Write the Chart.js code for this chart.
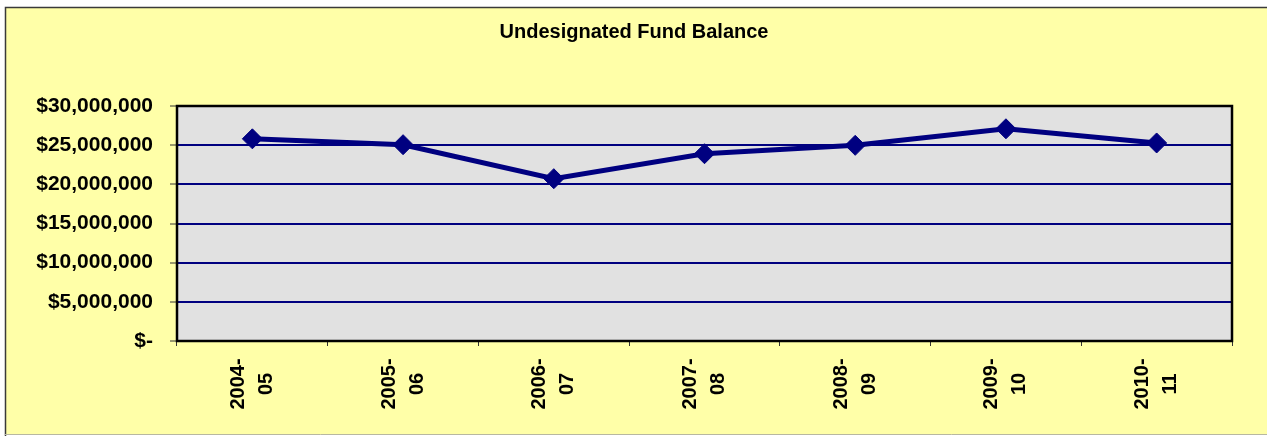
<!DOCTYPE html>
<html>
<head>
<meta charset="utf-8">
<script src="https://cdn.jsdelivr.net/npm/chart.js@4"></script>
<style>
    html, body { margin: 0; padding: 0; background: #ffffff; }
    #wrap { position: relative; width: 1267px; height: 436px; }
</style>
</head>
<body>
<div id="wrap"><canvas id="fundChart" width="1267" height="436"></canvas></div>
<script>
// Données du graphique
const years = [['2004-', '05'], ['2005-', '06'], ['2006-', '07'], ['2007-', '08'], ['2008-', '09'], ['2009-', '10'], ['2010-', '11']];
const balances = [25810000, 25060000, 20720000, 23910000, 24980000, 27090000, 25280000];
const yTicks = [0, 5000000, 10000000, 15000000, 20000000, 25000000, 30000000];

const navy = '#000080';

function formatDollar(v) {
    if (v === 0) return '$-';
    return '$' + v.toLocaleString('en-US');
}

// Fond jaune, zone grise et cadre
const backgroundPlugin = {
    id: 'background',
    beforeDraw(chart) {
        const c = chart.ctx;
        const a = chart.chartArea;
        c.save();
        c.fillStyle = '#ffffff';
        c.fillRect(0, 0, chart.width, chart.height);
        c.fillStyle = '#ffffa8';
        c.fillRect(5, 7, chart.width - 5, chart.height - 8);
        c.strokeStyle = '#3a3a3a';
        c.lineWidth = 1.5;
        c.beginPath();
        c.moveTo(5.5, chart.height);
        c.lineTo(5.5, 7.5);
        c.lineTo(chart.width, 7.5);
        c.stroke();
        c.strokeStyle = '#b8b8a0';
        c.lineWidth = 1;
        c.beginPath();
        c.moveTo(5, chart.height - 1.5);
        c.lineTo(chart.width, chart.height - 1.5);
        c.stroke();
        c.fillStyle = '#e1e1e1';
        c.fillRect(a.left, a.top, a.right - a.left, a.bottom - a.top);
        c.restore();
    },
    beforeDatasetsDraw(chart) {
        const c = chart.ctx;
        const a = chart.chartArea;
        c.save();
        c.strokeStyle = '#000000';
        c.lineWidth = 2.5;
        c.strokeRect(a.left, a.top, a.right - a.left, a.bottom - a.top);
        c.restore();
    }
};

// Étiquettes de l'axe X, tournées et centrées comme dans Excel
const xLabelPlugin = {
    id: 'xLabels',
    afterDraw(chart) {
        const c = chart.ctx;
        const xs = chart.scales.x;
        c.save();
        c.fillStyle = '#000000';
        c.font = 'bold 20px "Liberation Sans", Arial, sans-serif';
        c.textAlign = 'center';
        c.textBaseline = 'middle';
        years.forEach((lines, i) => {
            const x = xs.getPixelForValue(i);
            c.save();
            c.translate(x, 384);
            c.rotate(-Math.PI / 2);
            c.fillText(lines[0], 0, -14);
            c.fillText(lines[1], 0, 14);
            c.restore();
        });
        c.restore();
    }
};

const ctx = document.getElementById('fundChart').getContext('2d');

new Chart(ctx, {
    type: 'line',
    data: {
        labels: years,
        datasets: [{
            label: 'Undesignated Fund Balance',
            data: balances,
            borderColor: navy,
            backgroundColor: navy,
            borderWidth: 5,
            pointStyle: 'rectRot',
            pointRadius: 10,
            pointBorderWidth: 1,
            pointBackgroundColor: navy,
            pointBorderColor: navy,
            tension: 0
        }]
    },
    options: {
        responsive: false,
        animation: false,
        layout: { padding: { left: 36, right: 35, top: 0, bottom: 0 } },
        plugins: {
            legend: { display: false },
            tooltip: { enabled: false },
            title: {
                display: true,
                text: 'Undesignated Fund Balance',
                color: '#000000',
                font: { family: '"Liberation Sans", Arial, sans-serif', size: 20, weight: 'bold', lineHeight: 1.2 },
                padding: { top: 20, bottom: 62 }
            }
        },
        scales: {
            x: {
                offset: true,
                grid: {
                    offset: true,
                    drawOnChartArea: false,
                    drawTicks: true,
                    tickLength: 5,
                    tickColor: '#333333',
                    tickWidth: 1
                },
                border: { display: false },
                ticks: { display: false },
                afterFit(scale) { scale.height = 95; }
            },
            y: {
                min: 0,
                max: 30000000,
                afterBuildTicks(scale) {
                    scale.ticks = yTicks.map(v => ({ value: v }));
                },
                grid: {
                    color: navy,
                    lineWidth: 2,
                    drawTicks: true,
                    tickLength: 7,
                    tickColor: '#333333',
                    tickWidth: 1
                },
                border: { display: false },
                ticks: {
                    color: '#000000',
                    padding: 17,
                    font: { family: '"Liberation Sans", Arial, sans-serif', size: 21, weight: 'bold' },
                    callback: (v) => formatDollar(v)
                },
                afterFit(scale) { scale.width = 141; }
            }
        }
    },
    plugins: [backgroundPlugin, xLabelPlugin]
});
</script>
</body>
</html>
